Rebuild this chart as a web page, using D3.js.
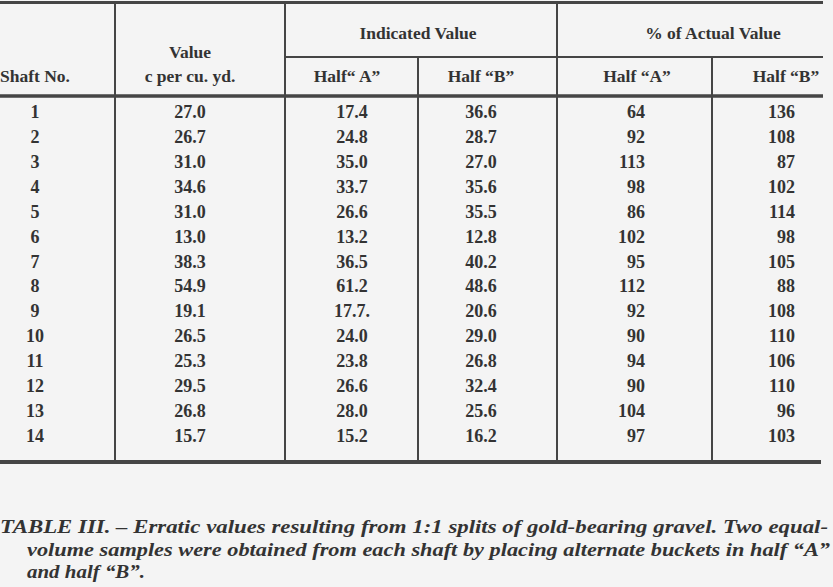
<!DOCTYPE html>
<html><head><meta charset="utf-8">
<script src="https://cdn.jsdelivr.net/npm/d3@7"></script>
<style>
html,body{margin:0;padding:0;background:#f4f4f4;}
svg{display:block;}
text{font-family:"Liberation Serif","Times New Roman",serif;fill:#333;}
</style></head>
<body>
<svg id="c" width="833" height="587"></svg>
<script>
const shafts = ["1","2","3","4","5","6","7","8","9","10","11","12","13","14"];
const valueCents = ["27.0","26.7","31.0","34.6","31.0","13.0","38.3","54.9","19.1","26.5","25.3","29.5","26.8","15.7"];
const indicatedA = ["17.4","24.8","35.0","33.7","26.6","13.2","36.5","61.2","17.7.","24.0","23.8","26.6","28.0","15.2"];
const indicatedB = ["36.6","28.7","27.0","35.6","35.5","12.8","40.2","48.6","20.6","29.0","26.8","32.4","25.6","16.2"];
const percentA = ["64","92","113","98","86","102","95","112","92","90","94","90","104","97"];
const percentB = ["136","108","87","102","114","98","105","88","108","110","106","110","96","103"];
const columnKeys = ["shaft","value","indA","indB","pctA","pctB"];
const columnLabels = ["Shaft No.","","Half\u201c A\u201d","Half \u201cB\u201d","Half \u201cA\u201d","Half \u201cB\u201d"];
const groupLabels = ["Indicated Value","% of Actual Value"];
const captionLines = [
  "TABLE III. \u2013 Erratic values resulting from 1:1 splits of gold-bearing gravel. Two equal-",
  "volume samples were obtained from each shaft by placing alternate buckets in half \u201cA\u201d",
  "and half \u201cB\u201d."
];

const svg = d3.select("#c");
const lineColor = "#454545";

const colCenter = d3.scaleOrdinal().domain(columnKeys).range([35, 190, 347, 481, 637, 786]);
const colAnchor = {shaft:"middle", value:"middle", indA:"middle", indB:"middle", pctA:"end", pctB:"end"};
const colAnchorX = d3.scaleOrdinal().domain(columnKeys).range([35, 190, 352, 481, 645, 795]);

const y = d3.scalePoint().domain(shafts).range([118, 442]);

const cols = {shaft:shafts, value:valueCents, indA:indicatedA, indB:indicatedB, pctA:percentA, pctB:percentB};

// horizontal rules
svg.append("line").attr("x1",0).attr("x2",823).attr("y1",2.5).attr("y2",2.5).attr("stroke",lineColor).attr("stroke-width",3);
svg.append("line").attr("x1",285).attr("x2",823).attr("y1",57).attr("y2",57).attr("stroke",lineColor).attr("stroke-width",2);
svg.append("line").attr("x1",0).attr("x2",823).attr("y1",96).attr("y2",96).attr("stroke",lineColor).attr("stroke-width",3.5);
svg.append("line").attr("x1",0).attr("x2",821).attr("y1",462).attr("y2",462).attr("stroke",lineColor).attr("stroke-width",4);

// vertical rules
const vlines = [{x:115,y1:2,y2:462},{x:285,y1:2,y2:462},{x:418,y1:57,y2:462},{x:557,y1:2,y2:462},{x:712,y1:57,y2:462}];
svg.selectAll("line.v").data(vlines).join("line").attr("class","v")
  .attr("x1",d=>d.x).attr("x2",d=>d.x).attr("y1",d=>d.y1).attr("y2",d=>d.y2)
  .attr("stroke",lineColor).attr("stroke-width",2);

// headers
const hdr = svg.append("g").attr("font-weight","bold").attr("font-size",17.5);
hdr.append("text").attr("x",0).attr("y",82).attr("textLength",70).attr("lengthAdjust","spacingAndGlyphs").text(columnLabels[0]);
hdr.append("text").attr("x",190).attr("y",58).attr("text-anchor","middle").text("Value");
hdr.append("text").attr("x",190).attr("y",82).attr("text-anchor","middle").text("c per cu. yd.");
hdr.append("text").attr("x",418).attr("y",39).attr("text-anchor","middle").text(groupLabels[0]);
hdr.append("text").attr("x",713).attr("y",39).attr("text-anchor","middle").text(groupLabels[1]);
["indA","indB","pctA","pctB"].forEach((k,i)=>{
  hdr.append("text").attr("x",colCenter(k)).attr("y",82).attr("text-anchor","middle").text(columnLabels[i+2]);
});

// body
const body = svg.append("g").attr("font-weight","bold").attr("font-size",18);
columnKeys.forEach(k=>{
  body.selectAll(null).data(cols[k]).join("text")
    .attr("x",colAnchorX(k)).attr("y",(d,i)=>y(shafts[i]))
    .attr("text-anchor",colAnchor[k]).text(d=>d);
});

// caption
const cap = svg.append("g").attr("font-weight","bold").attr("font-style","italic").attr("font-size",19);
const capPos = [{x:0,y:533,w:828},{x:27,y:556,w:803},{x:27,y:578,w:118}];
cap.selectAll("text").data(captionLines).join("text")
  .attr("x",(d,i)=>capPos[i].x).attr("y",(d,i)=>capPos[i].y)
  .attr("textLength",(d,i)=>capPos[i].w).attr("lengthAdjust","spacingAndGlyphs")
  .text(d=>d);
</script>
</body></html>
